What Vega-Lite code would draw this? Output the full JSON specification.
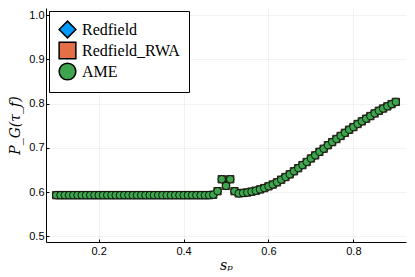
{
  "$schema": "https://vega.github.io/schema/vega-lite/v6.json",
  "width": 360,
  "height": 234,
  "autosize": "none",
  "padding": {"left": 46, "top": 8, "right": 9, "bottom": 35},
  "background": "white",
  "config": {
    "view": {"stroke": null},
    "axis": {
      "domainColor": "black",
      "domainWidth": 1,
      "tickColor": "black",
      "tickSize": -3,
      "tickWidth": 1,
      "gridColor": "black",
      "gridOpacity": 0.1,
      "gridWidth": 0.5,
      "labelFont": "Liberation Sans",
      "labelFontSize": 11,
      "labelColor": "black",
      "titleFont": "DejaVu Serif",
      "titleFontStyle": "italic",
      "titleFontWeight": "normal",
      "titleFontSize": 14,
      "titleColor": "black"
    }
  },
  "data": {
    "values": [
      {"x": 0.10, "Redfield": 0.593, "Redfield_RWA": 0.593, "AME": 0.593},
      {"x": 0.11, "Redfield": 0.593, "Redfield_RWA": 0.593, "AME": 0.593},
      {"x": 0.12, "Redfield": 0.593, "Redfield_RWA": 0.593, "AME": 0.593},
      {"x": 0.13, "Redfield": 0.593, "Redfield_RWA": 0.593, "AME": 0.593},
      {"x": 0.14, "Redfield": 0.593, "Redfield_RWA": 0.593, "AME": 0.593},
      {"x": 0.15, "Redfield": 0.593, "Redfield_RWA": 0.593, "AME": 0.593},
      {"x": 0.16, "Redfield": 0.593, "Redfield_RWA": 0.593, "AME": 0.593},
      {"x": 0.17, "Redfield": 0.593, "Redfield_RWA": 0.593, "AME": 0.593},
      {"x": 0.18, "Redfield": 0.593, "Redfield_RWA": 0.593, "AME": 0.593},
      {"x": 0.19, "Redfield": 0.593, "Redfield_RWA": 0.593, "AME": 0.593},
      {"x": 0.20, "Redfield": 0.593, "Redfield_RWA": 0.593, "AME": 0.593},
      {"x": 0.21, "Redfield": 0.593, "Redfield_RWA": 0.593, "AME": 0.593},
      {"x": 0.22, "Redfield": 0.593, "Redfield_RWA": 0.593, "AME": 0.593},
      {"x": 0.23, "Redfield": 0.593, "Redfield_RWA": 0.593, "AME": 0.593},
      {"x": 0.24, "Redfield": 0.593, "Redfield_RWA": 0.593, "AME": 0.593},
      {"x": 0.25, "Redfield": 0.593, "Redfield_RWA": 0.593, "AME": 0.593},
      {"x": 0.26, "Redfield": 0.593, "Redfield_RWA": 0.593, "AME": 0.593},
      {"x": 0.27, "Redfield": 0.593, "Redfield_RWA": 0.593, "AME": 0.593},
      {"x": 0.28, "Redfield": 0.593, "Redfield_RWA": 0.593, "AME": 0.593},
      {"x": 0.29, "Redfield": 0.593, "Redfield_RWA": 0.593, "AME": 0.593},
      {"x": 0.30, "Redfield": 0.593, "Redfield_RWA": 0.593, "AME": 0.593},
      {"x": 0.31, "Redfield": 0.593, "Redfield_RWA": 0.593, "AME": 0.593},
      {"x": 0.32, "Redfield": 0.593, "Redfield_RWA": 0.593, "AME": 0.593},
      {"x": 0.33, "Redfield": 0.593, "Redfield_RWA": 0.593, "AME": 0.593},
      {"x": 0.34, "Redfield": 0.593, "Redfield_RWA": 0.593, "AME": 0.593},
      {"x": 0.35, "Redfield": 0.593, "Redfield_RWA": 0.593, "AME": 0.593},
      {"x": 0.36, "Redfield": 0.593, "Redfield_RWA": 0.593, "AME": 0.593},
      {"x": 0.37, "Redfield": 0.593, "Redfield_RWA": 0.593, "AME": 0.593},
      {"x": 0.38, "Redfield": 0.593, "Redfield_RWA": 0.593, "AME": 0.593},
      {"x": 0.39, "Redfield": 0.593, "Redfield_RWA": 0.593, "AME": 0.593},
      {"x": 0.40, "Redfield": 0.593, "Redfield_RWA": 0.593, "AME": 0.593},
      {"x": 0.41, "Redfield": 0.593, "Redfield_RWA": 0.593, "AME": 0.593},
      {"x": 0.42, "Redfield": 0.593, "Redfield_RWA": 0.593, "AME": 0.593},
      {"x": 0.43, "Redfield": 0.593, "Redfield_RWA": 0.593, "AME": 0.593},
      {"x": 0.44, "Redfield": 0.593, "Redfield_RWA": 0.593, "AME": 0.593},
      {"x": 0.45, "Redfield": 0.593, "Redfield_RWA": 0.593, "AME": 0.593},
      {"x": 0.46, "Redfield": 0.593, "Redfield_RWA": 0.593, "AME": 0.593},
      {"x": 0.47, "Redfield": 0.594, "Redfield_RWA": 0.594, "AME": 0.594},
      {"x": 0.48, "Redfield": 0.602, "Redfield_RWA": 0.602, "AME": 0.602},
      {"x": 0.49, "Redfield": 0.629, "Redfield_RWA": 0.629, "AME": 0.629},
      {"x": 0.50, "Redfield": 0.614, "Redfield_RWA": 0.614, "AME": 0.614},
      {"x": 0.51, "Redfield": 0.629, "Redfield_RWA": 0.629, "AME": 0.629},
      {"x": 0.52, "Redfield": 0.602, "Redfield_RWA": 0.602, "AME": 0.602},
      {"x": 0.53, "Redfield": 0.597, "Redfield_RWA": 0.597, "AME": 0.597},
      {"x": 0.54, "Redfield": 0.598, "Redfield_RWA": 0.598, "AME": 0.598},
      {"x": 0.55, "Redfield": 0.599, "Redfield_RWA": 0.599, "AME": 0.599},
      {"x": 0.56, "Redfield": 0.601, "Redfield_RWA": 0.601, "AME": 0.601},
      {"x": 0.57, "Redfield": 0.603, "Redfield_RWA": 0.603, "AME": 0.603},
      {"x": 0.58, "Redfield": 0.606, "Redfield_RWA": 0.606, "AME": 0.606},
      {"x": 0.59, "Redfield": 0.609, "Redfield_RWA": 0.609, "AME": 0.609},
      {"x": 0.60, "Redfield": 0.613, "Redfield_RWA": 0.613, "AME": 0.613},
      {"x": 0.61, "Redfield": 0.617, "Redfield_RWA": 0.617, "AME": 0.617},
      {"x": 0.62, "Redfield": 0.622, "Redfield_RWA": 0.622, "AME": 0.622},
      {"x": 0.63, "Redfield": 0.628, "Redfield_RWA": 0.628, "AME": 0.628},
      {"x": 0.64, "Redfield": 0.634, "Redfield_RWA": 0.634, "AME": 0.634},
      {"x": 0.65, "Redfield": 0.640, "Redfield_RWA": 0.640, "AME": 0.640},
      {"x": 0.66, "Redfield": 0.647, "Redfield_RWA": 0.647, "AME": 0.647},
      {"x": 0.67, "Redfield": 0.654, "Redfield_RWA": 0.654, "AME": 0.654},
      {"x": 0.68, "Redfield": 0.661, "Redfield_RWA": 0.661, "AME": 0.661},
      {"x": 0.69, "Redfield": 0.668, "Redfield_RWA": 0.668, "AME": 0.668},
      {"x": 0.70, "Redfield": 0.676, "Redfield_RWA": 0.676, "AME": 0.676},
      {"x": 0.71, "Redfield": 0.683, "Redfield_RWA": 0.683, "AME": 0.683},
      {"x": 0.72, "Redfield": 0.691, "Redfield_RWA": 0.691, "AME": 0.691},
      {"x": 0.73, "Redfield": 0.698, "Redfield_RWA": 0.698, "AME": 0.698},
      {"x": 0.74, "Redfield": 0.706, "Redfield_RWA": 0.706, "AME": 0.706},
      {"x": 0.75, "Redfield": 0.713, "Redfield_RWA": 0.713, "AME": 0.713},
      {"x": 0.76, "Redfield": 0.720, "Redfield_RWA": 0.720, "AME": 0.720},
      {"x": 0.77, "Redfield": 0.727, "Redfield_RWA": 0.727, "AME": 0.727},
      {"x": 0.78, "Redfield": 0.734, "Redfield_RWA": 0.734, "AME": 0.734},
      {"x": 0.79, "Redfield": 0.741, "Redfield_RWA": 0.741, "AME": 0.741},
      {"x": 0.80, "Redfield": 0.747, "Redfield_RWA": 0.747, "AME": 0.747},
      {"x": 0.81, "Redfield": 0.754, "Redfield_RWA": 0.754, "AME": 0.754},
      {"x": 0.82, "Redfield": 0.760, "Redfield_RWA": 0.760, "AME": 0.760},
      {"x": 0.83, "Redfield": 0.766, "Redfield_RWA": 0.766, "AME": 0.766},
      {"x": 0.84, "Redfield": 0.772, "Redfield_RWA": 0.772, "AME": 0.772},
      {"x": 0.85, "Redfield": 0.778, "Redfield_RWA": 0.778, "AME": 0.778},
      {"x": 0.86, "Redfield": 0.784, "Redfield_RWA": 0.784, "AME": 0.784},
      {"x": 0.87, "Redfield": 0.789, "Redfield_RWA": 0.789, "AME": 0.789},
      {"x": 0.88, "Redfield": 0.794, "Redfield_RWA": 0.794, "AME": 0.794},
      {"x": 0.89, "Redfield": 0.799, "Redfield_RWA": 0.799, "AME": 0.799},
      {"x": 0.90, "Redfield": 0.804, "Redfield_RWA": 0.804, "AME": 0.804}
    ]
  },
  "transform": [
    {"fold": ["Redfield", "Redfield_RWA", "AME"], "as": ["series", "y"]}
  ],
  "encoding": {
    "x": {
      "field": "x", "type": "quantitative",
      "scale": {"domain": [0.076, 0.924], "nice": false, "zero": false},
      "axis": {"values": [0.2, 0.4, 0.6, 0.8], "format": ".1f", "title": "sₚ", "labelPadding": 6, "titlePadding": 2}
    },
    "y": {
      "field": "y", "type": "quantitative",
      "scale": {"domain": [0.487, 1.0165], "nice": false, "zero": false},
      "axis": {"values": [0.5, 0.6, 0.7, 0.8, 0.9, 1.0], "format": ".1f", "title": "P_G(τ_f)", "labelPadding": 5, "titlePadding": 6}
    },
    "color": {
      "field": "series", "type": "nominal",
      "scale": {"domain": ["Redfield", "Redfield_RWA", "AME"], "range": ["#009AFA", "#E36F47", "#3EA44E"]},
      "legend": {
        "title": null,
        "orient": "none",
        "legendX": 3,
        "legendY": 3,
        "fillColor": "white",
        "strokeColor": "black",
        "padding": 9,
        "symbolSize": 280,
        "symbolStrokeColor": "black",
        "symbolStrokeWidth": 1.5,
        "labelFont": "Liberation Serif",
        "labelFontSize": 16,
        "labelColor": "black",
        "labelOffset": 5,
        "rowPadding": -4,
        "labelLimit": 200
      }
    },
    "shape": {
      "field": "series", "type": "nominal",
      "scale": {"domain": ["Redfield", "Redfield_RWA", "AME"], "range": ["diamond", "square", "circle"]}
    }
  },
  "layer": [
    {"transform": [{"filter": "datum.series === 'Redfield'"}], "mark": {"type": "point", "filled": true, "opacity": 1, "stroke": "black", "strokeWidth": 0.8, "size": 55}},
    {"transform": [{"filter": "datum.series === 'Redfield_RWA'"}], "mark": {"type": "point", "filled": true, "opacity": 1, "stroke": "black", "strokeWidth": 0.8, "size": 55}},
    {"transform": [{"filter": "datum.series === 'AME'"}], "mark": {"type": "point", "filled": true, "opacity": 1, "stroke": "black", "strokeWidth": 0.8, "size": 55}}
  ]
}
